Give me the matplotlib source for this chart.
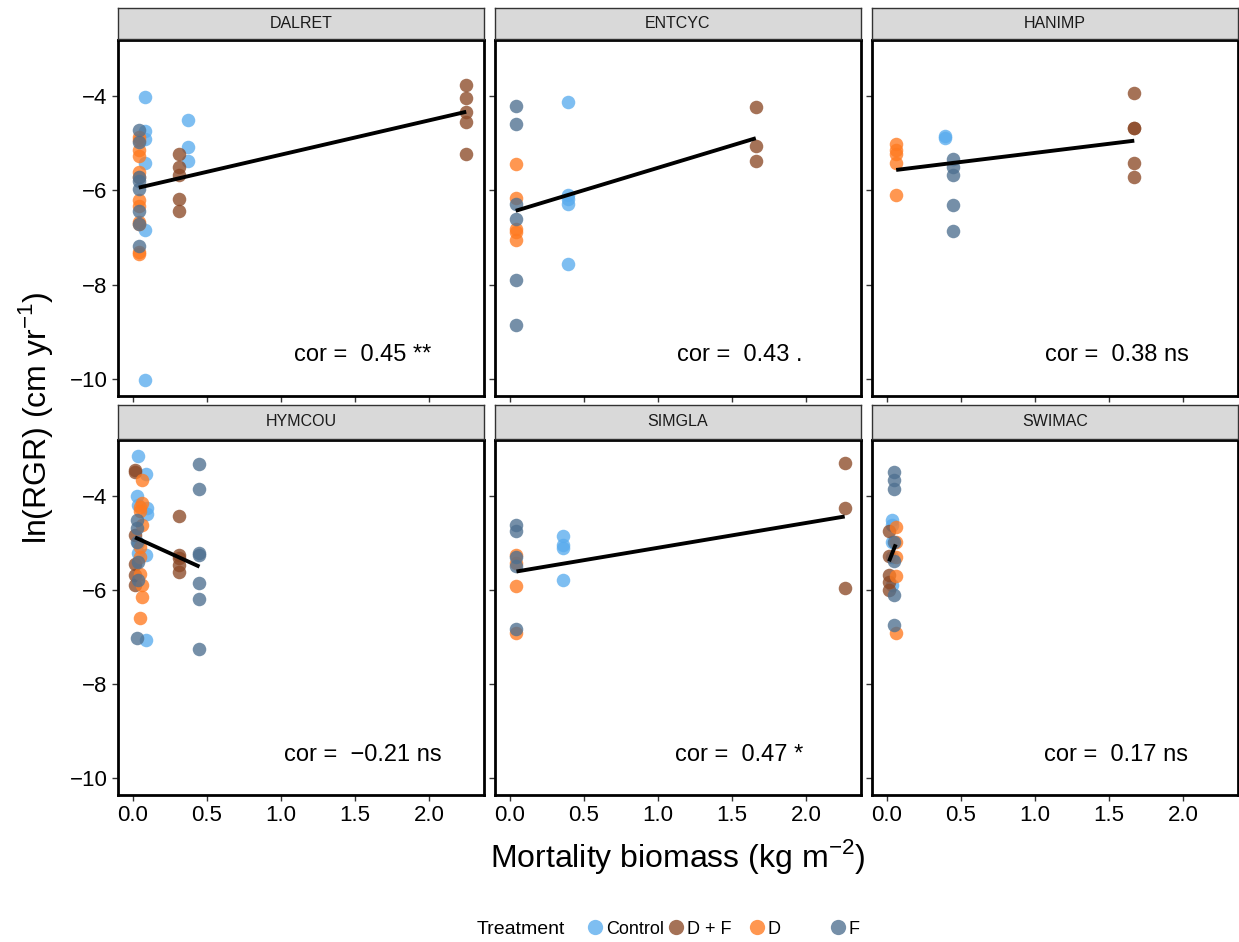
import numpy as np
import matplotlib
matplotlib.use("Agg")
import matplotlib.pyplot as plt
from matplotlib.lines import Line2D

plt.rcParams['font.family'] = ['Liberation Sans', 'DejaVu Sans']
plt.rcParams['mathtext.fontset'] = 'custom'
plt.rcParams['mathtext.rm'] = 'Liberation Sans'

# --- data ---
species = ["DALRET", "ENTCYC", "HANIMP", "HYMCOU", "SIMGLA", "SWIMAC"]
cor_labels = ["cor =  0.45 **", "cor =  0.43 .", "cor =  0.38 ns",
              "cor =  \u22120.21 ns", "cor =  0.47 *", "cor =  0.17 ns"]
fit_intercept = [-5.97, -6.47, -5.59, -4.86, -5.63, -5.51]
fit_slope = [0.728, 0.95, 0.386, -1.43, 0.528, 8.0]

treatments = ["Control", "D + F", "D", "F"]
colors = {"Control": "#5AACEE", "D + F": "#8C4A28", "D": "#FF7A20", "F": "#4E7090"}

dalret_x = [0.08, 0.08, 0.08, 0.08, 0.08, 0.08, 0.37, 0.37, 0.37,
            0.31, 0.31, 0.31, 0.31, 0.31, 2.25, 2.25, 2.25, 2.25, 2.25,
            0.04, 0.04, 0.04, 0.04, 0.04, 0.04, 0.04, 0.04, 0.04, 0.04, 0.04, 0.04,
            0.04, 0.04, 0.04, 0.04, 0.04, 0.04, 0.04, 0.04]
dalret_y = [-4.01, -4.74, -4.92, -5.42, -6.85, -10.03, -4.51, -5.08, -5.38,
            -5.22, -5.50, -5.68, -6.18, -6.44, -3.77, -4.05, -4.33, -4.55, -5.22,
            -4.87, -4.94, -5.15, -5.26, -5.61, -5.72, -6.21, -6.32, -6.67, -6.72, -7.31, -7.35,
            -4.72, -4.97, -5.72, -5.79, -5.96, -6.43, -6.71, -7.17]
dalret_t = ["Control"] * 9 + ["D + F"] * 10 + ["D"] * 12 + ["F"] * 8

entcyc_x = [0.04, 0.04, 0.04, 0.04, 0.04, 0.04,
            0.04, 0.04, 0.04, 0.04, 0.04,
            0.39, 0.39, 0.39, 0.39, 0.39,
            1.66, 1.66, 1.66]
entcyc_y = [-4.20, -4.60, -6.28, -6.60, -7.91, -8.85,
            -5.43, -6.16, -6.82, -6.89, -7.06,
            -4.13, -6.09, -6.18, -6.28, -7.56,
            -4.23, -5.06, -5.38]
entcyc_t = ["F"] * 6 + ["D"] * 5 + ["Control"] * 5 + ["D + F"] * 3

hanimp_x = [0.063, 0.063, 0.063, 0.063, 0.063,
            0.39, 0.39,
            0.45, 0.45, 0.45, 0.45, 0.45,
            1.67, 1.67, 1.67, 1.67, 1.67]
hanimp_y = [-5.02, -5.15, -5.22, -5.42, -6.09,
            -4.85, -4.89,
            -5.33, -5.50, -5.67, -6.30, -6.86,
            -3.93, -4.67, -4.67, -5.42, -5.72]
hanimp_t = ["D"] * 5 + ["Control"] * 2 + ["F"] * 5 + ["D + F"] * 5

hymcou_x = [0.034, 0.09, 0.03, 0.034, 0.096, 0.096, 0.034, 0.09, 0.09, 0.034,
            0.015, 0.015, 0.015, 0.015, 0.015, 0.015, 0.31, 0.31, 0.31, 0.31, 0.31,
            0.06, 0.06, 0.05, 0.05, 0.065, 0.05, 0.05, 0.05, 0.06, 0.06, 0.05,
            0.03, 0.03, 0.03, 0.034, 0.034, 0.03, 0.45, 0.45, 0.45, 0.45, 0.45, 0.45, 0.45]
hymcou_y = [-3.14, -3.53, -4.01, -4.19, -4.26, -4.38, -5.21, -5.26, -7.06, -5.01,
            -3.45, -3.48, -4.83, -5.45, -5.68, -5.89, -4.43, -5.26, -5.33, -5.47, -5.61,
            -3.66, -4.16, -4.23, -4.33, -4.62, -5.08, -5.29, -5.65, -5.89, -6.14, -6.60,
            -4.51, -4.69, -4.97, -5.40, -5.79, -7.03, -3.32, -3.86, -5.21, -5.26, -5.86, -6.20, -7.25]
hymcou_t = ["Control"] * 10 + ["D + F"] * 11 + ["D"] * 11 + ["F"] * 13

simgla_x = [0.045, 0.045, 0.045, 0.045, 0.045,
            0.045, 0.045, 0.045, 0.045,
            0.36, 0.36, 0.36, 0.36,
            2.26, 2.26, 2.26]
simgla_y = [-4.62, -4.74, -5.29, -5.49, -6.83,
            -5.26, -5.43, -5.91, -6.91,
            -4.85, -5.04, -5.11, -5.79,
            -3.29, -4.26, -5.96]
simgla_t = ["F"] * 5 + ["D"] * 4 + ["Control"] * 4 + ["D + F"] * 3

swimac_x = [0.05, 0.05, 0.05, 0.05, 0.05, 0.05, 0.05,
            0.034, 0.034, 0.034, 0.034, 0.034,
            0.06, 0.06, 0.06, 0.06, 0.06,
            0.015, 0.015, 0.015, 0.015, 0.015]
swimac_y = [-3.48, -3.67, -3.86, -4.97, -5.38, -6.11, -6.74,
            -4.51, -4.62, -4.97, -5.29, -5.89,
            -4.67, -4.97, -5.70, -6.92, -5.29,
            -4.74, -5.28, -5.68, -5.84, -6.00]
swimac_t = ["F"] * 7 + ["Control"] * 5 + ["D"] * 5 + ["D + F"] * 5

panel_x = [dalret_x, entcyc_x, hanimp_x, hymcou_x, simgla_x, swimac_x]
panel_y = [dalret_y, entcyc_y, hanimp_y, hymcou_y, simgla_y, swimac_y]
panel_t = [dalret_t, entcyc_t, hanimp_t, hymcou_t, simgla_t, swimac_t]

# --- figure ---
W, H = 1239, 942
fig = plt.figure(figsize=(W / 100, H / 100), dpi=100)

lefts = [118, 495, 872]
pw = 366
rows = [(40, 396, 8), (440, 795, 405)]  # panel top, panel bottom, strip top

for i, sp in enumerate(species):
    r, c = divmod(i, 3)
    top, bot, stop = rows[r]
    ax = fig.add_axes([lefts[c] / W, (H - bot) / H, pw / W, (bot - top) / H])
    st = fig.add_axes([lefts[c] / W, (H - top + 1) / H, pw / W, (top - 1 - stop) / H])
    st.set_facecolor("#D9D9D9")
    st.set_xticks([])
    st.set_yticks([])
    for s in st.spines.values():
        s.set_linewidth(1.0)
        s.set_color("#333333")
    st.text(0.5, 0.5, sp, ha="center", va="center", fontsize=11.5, color="#1A1A1A",
            transform=st.transAxes)

    x = np.array(panel_x[i])
    y = np.array(panel_y[i])
    t = np.array(panel_t[i])
    for tr in treatments:
        m = t == tr
        ax.scatter(x[m], y[m], s=95, color=colors[tr], alpha=0.78, linewidths=0, zorder=2)

    xs = np.array([x.min(), x.max()])
    ax.plot(xs, fit_intercept[i] + fit_slope[i] * xs, color="black", lw=2.8, zorder=3,
            solid_capstyle="butt")

    ax.text(1.55, -9.5, cor_labels[i], ha="center", va="center", fontsize=17)

    ax.set_xlim(-0.1, 2.37)
    ax.set_ylim(-10.36, -2.81)
    ax.set_xticks([0.0, 0.5, 1.0, 1.5, 2.0])
    ax.set_yticks([-10, -8, -6, -4])
    ax.tick_params(direction="out", length=4, width=1, color="#333333", labelsize=16,
                   labelcolor="black")
    if c != 0:
        ax.tick_params(labelleft=False)
    else:
        ax.set_yticklabels(["\u221210", "\u22128", "\u22126", "\u22124"])
    if r == 0:
        ax.tick_params(labelbottom=False)
    else:
        ax.set_xticklabels(["0.0", "0.5", "1.0", "1.5", "2.0"])
    for s in ax.spines.values():
        s.set_linewidth(2)
        s.set_color("black")

fig.text(36 / W, 1 - 418 / H, r"ln(RGR) (cm yr$^{-1}$)",
         rotation=90, ha="center", va="center", fontsize=23)
fig.text(678 / W, 1 - 857 / H, r"Mortality biomass (kg m$^{-2}$)",
         ha="center", va="center", fontsize=23)

# legend: equal-width keys like ggplot
fig.text(521 / W, 1 - 930 / H, "Treatment", ha="center", va="center", fontsize=14)
for k, tr in enumerate(treatments):
    h = Line2D([], [], marker="o", ls="", markersize=11, markeredgewidth=0,
               color=colors[tr], alpha=0.78)
    fig.legend([h], [tr], loc="center left", bbox_to_anchor=((584 + 81 * k) / W, 1 - 929 / H),
               frameon=False, fontsize=13, handletextpad=0.0, borderaxespad=0,
               borderpad=0, handlelength=1.2)

fig.savefig("out.png", dpi=100)
